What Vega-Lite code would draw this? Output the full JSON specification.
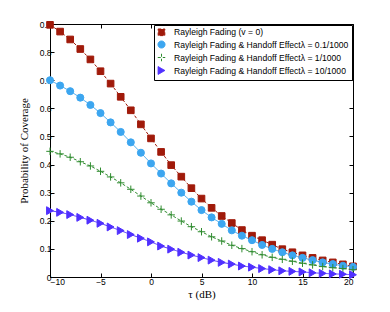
{
  "$schema": "https://vega.github.io/schema/vega-lite/v6.json",
  "width": 303,
  "height": 253,
  "autosize": {"type": "none"},
  "padding": {"left": 50, "top": 24, "right": 37, "bottom": 35},
  "background": "white",
  "config": {
    "view": {"stroke": "black", "strokeWidth": 1},
    "axis": {"grid": false, "domain": false, "tickColor": "black", "tickSize": -4, "labelFont": "Liberation Sans", "labelFontSize": 8.5, "labelColor": "black", "titleFont": "Liberation Serif", "titleFontWeight": "normal", "titleFontSize": 11, "titleColor": "black"}
  },
  "data": {"values": [
    {"s":"Rayleigh Fading (v = 0)","x":-10,"y":0.897},{"s":"Rayleigh Fading (v = 0)","x":-9,"y":0.873},{"s":"Rayleigh Fading (v = 0)","x":-8,"y":0.845},{"s":"Rayleigh Fading (v = 0)","x":-7,"y":0.811},{"s":"Rayleigh Fading (v = 0)","x":-6,"y":0.774},{"s":"Rayleigh Fading (v = 0)","x":-5,"y":0.732},{"s":"Rayleigh Fading (v = 0)","x":-4,"y":0.688},{"s":"Rayleigh Fading (v = 0)","x":-3,"y":0.641},{"s":"Rayleigh Fading (v = 0)","x":-2,"y":0.593},{"s":"Rayleigh Fading (v = 0)","x":-1,"y":0.543},{"s":"Rayleigh Fading (v = 0)","x":0,"y":0.493},{"s":"Rayleigh Fading (v = 0)","x":1,"y":0.445},{"s":"Rayleigh Fading (v = 0)","x":2,"y":0.398},{"s":"Rayleigh Fading (v = 0)","x":3,"y":0.357},{"s":"Rayleigh Fading (v = 0)","x":4,"y":0.316},{"s":"Rayleigh Fading (v = 0)","x":5,"y":0.279},{"s":"Rayleigh Fading (v = 0)","x":6,"y":0.246},{"s":"Rayleigh Fading (v = 0)","x":7,"y":0.217},{"s":"Rayleigh Fading (v = 0)","x":8,"y":0.192},{"s":"Rayleigh Fading (v = 0)","x":9,"y":0.167},{"s":"Rayleigh Fading (v = 0)","x":10,"y":0.147},{"s":"Rayleigh Fading (v = 0)","x":11,"y":0.131},{"s":"Rayleigh Fading (v = 0)","x":12,"y":0.115},{"s":"Rayleigh Fading (v = 0)","x":13,"y":0.099},{"s":"Rayleigh Fading (v = 0)","x":14,"y":0.088},{"s":"Rayleigh Fading (v = 0)","x":15,"y":0.077},{"s":"Rayleigh Fading (v = 0)","x":16,"y":0.068},{"s":"Rayleigh Fading (v = 0)","x":17,"y":0.059},{"s":"Rayleigh Fading (v = 0)","x":18,"y":0.052},{"s":"Rayleigh Fading (v = 0)","x":19,"y":0.045},{"s":"Rayleigh Fading (v = 0)","x":20,"y":0.038},
    {"s":"Rayleigh Fading & Handoff Effectλ = 0.1/1000","x":-10,"y":0.700},{"s":"Rayleigh Fading & Handoff Effectλ = 0.1/1000","x":-9,"y":0.681},{"s":"Rayleigh Fading & Handoff Effectλ = 0.1/1000","x":-8,"y":0.661},{"s":"Rayleigh Fading & Handoff Effectλ = 0.1/1000","x":-7,"y":0.638},{"s":"Rayleigh Fading & Handoff Effectλ = 0.1/1000","x":-6,"y":0.612},{"s":"Rayleigh Fading & Handoff Effectλ = 0.1/1000","x":-5,"y":0.583},{"s":"Rayleigh Fading & Handoff Effectλ = 0.1/1000","x":-4,"y":0.550},{"s":"Rayleigh Fading & Handoff Effectλ = 0.1/1000","x":-3,"y":0.516},{"s":"Rayleigh Fading & Handoff Effectλ = 0.1/1000","x":-2,"y":0.479},{"s":"Rayleigh Fading & Handoff Effectλ = 0.1/1000","x":-1,"y":0.442},{"s":"Rayleigh Fading & Handoff Effectλ = 0.1/1000","x":0,"y":0.404},{"s":"Rayleigh Fading & Handoff Effectλ = 0.1/1000","x":1,"y":0.368},{"s":"Rayleigh Fading & Handoff Effectλ = 0.1/1000","x":2,"y":0.333},{"s":"Rayleigh Fading & Handoff Effectλ = 0.1/1000","x":3,"y":0.300},{"s":"Rayleigh Fading & Handoff Effectλ = 0.1/1000","x":4,"y":0.268},{"s":"Rayleigh Fading & Handoff Effectλ = 0.1/1000","x":5,"y":0.238},{"s":"Rayleigh Fading & Handoff Effectλ = 0.1/1000","x":6,"y":0.212},{"s":"Rayleigh Fading & Handoff Effectλ = 0.1/1000","x":7,"y":0.189},{"s":"Rayleigh Fading & Handoff Effectλ = 0.1/1000","x":8,"y":0.166},{"s":"Rayleigh Fading & Handoff Effectλ = 0.1/1000","x":9,"y":0.147},{"s":"Rayleigh Fading & Handoff Effectλ = 0.1/1000","x":10,"y":0.131},{"s":"Rayleigh Fading & Handoff Effectλ = 0.1/1000","x":11,"y":0.114},{"s":"Rayleigh Fading & Handoff Effectλ = 0.1/1000","x":12,"y":0.100},{"s":"Rayleigh Fading & Handoff Effectλ = 0.1/1000","x":13,"y":0.088},{"s":"Rayleigh Fading & Handoff Effectλ = 0.1/1000","x":14,"y":0.077},{"s":"Rayleigh Fading & Handoff Effectλ = 0.1/1000","x":15,"y":0.068},{"s":"Rayleigh Fading & Handoff Effectλ = 0.1/1000","x":16,"y":0.060},{"s":"Rayleigh Fading & Handoff Effectλ = 0.1/1000","x":17,"y":0.052},{"s":"Rayleigh Fading & Handoff Effectλ = 0.1/1000","x":18,"y":0.046},{"s":"Rayleigh Fading & Handoff Effectλ = 0.1/1000","x":19,"y":0.040},{"s":"Rayleigh Fading & Handoff Effectλ = 0.1/1000","x":20,"y":0.036},
    {"s":"Rayleigh Fading & Handoff Effectλ = 1/1000","x":-10,"y":0.447},{"s":"Rayleigh Fading & Handoff Effectλ = 1/1000","x":-9,"y":0.438},{"s":"Rayleigh Fading & Handoff Effectλ = 1/1000","x":-8,"y":0.426},{"s":"Rayleigh Fading & Handoff Effectλ = 1/1000","x":-7,"y":0.410},{"s":"Rayleigh Fading & Handoff Effectλ = 1/1000","x":-6,"y":0.395},{"s":"Rayleigh Fading & Handoff Effectλ = 1/1000","x":-5,"y":0.376},{"s":"Rayleigh Fading & Handoff Effectλ = 1/1000","x":-4,"y":0.356},{"s":"Rayleigh Fading & Handoff Effectλ = 1/1000","x":-3,"y":0.335},{"s":"Rayleigh Fading & Handoff Effectλ = 1/1000","x":-2,"y":0.312},{"s":"Rayleigh Fading & Handoff Effectλ = 1/1000","x":-1,"y":0.288},{"s":"Rayleigh Fading & Handoff Effectλ = 1/1000","x":0,"y":0.264},{"s":"Rayleigh Fading & Handoff Effectλ = 1/1000","x":1,"y":0.241},{"s":"Rayleigh Fading & Handoff Effectλ = 1/1000","x":2,"y":0.221},{"s":"Rayleigh Fading & Handoff Effectλ = 1/1000","x":3,"y":0.199},{"s":"Rayleigh Fading & Handoff Effectλ = 1/1000","x":4,"y":0.179},{"s":"Rayleigh Fading & Handoff Effectλ = 1/1000","x":5,"y":0.161},{"s":"Rayleigh Fading & Handoff Effectλ = 1/1000","x":6,"y":0.143},{"s":"Rayleigh Fading & Handoff Effectλ = 1/1000","x":7,"y":0.128},{"s":"Rayleigh Fading & Handoff Effectλ = 1/1000","x":8,"y":0.113},{"s":"Rayleigh Fading & Handoff Effectλ = 1/1000","x":9,"y":0.101},{"s":"Rayleigh Fading & Handoff Effectλ = 1/1000","x":10,"y":0.090},{"s":"Rayleigh Fading & Handoff Effectλ = 1/1000","x":11,"y":0.079},{"s":"Rayleigh Fading & Handoff Effectλ = 1/1000","x":12,"y":0.070},{"s":"Rayleigh Fading & Handoff Effectλ = 1/1000","x":13,"y":0.063},{"s":"Rayleigh Fading & Handoff Effectλ = 1/1000","x":14,"y":0.056},{"s":"Rayleigh Fading & Handoff Effectλ = 1/1000","x":15,"y":0.049},{"s":"Rayleigh Fading & Handoff Effectλ = 1/1000","x":16,"y":0.043},{"s":"Rayleigh Fading & Handoff Effectλ = 1/1000","x":17,"y":0.037},{"s":"Rayleigh Fading & Handoff Effectλ = 1/1000","x":18,"y":0.033},{"s":"Rayleigh Fading & Handoff Effectλ = 1/1000","x":19,"y":0.030},{"s":"Rayleigh Fading & Handoff Effectλ = 1/1000","x":20,"y":0.026},
    {"s":"Rayleigh Fading & Handoff Effectλ = 10/1000","x":-10,"y":0.236},{"s":"Rayleigh Fading & Handoff Effectλ = 10/1000","x":-9,"y":0.230},{"s":"Rayleigh Fading & Handoff Effectλ = 10/1000","x":-8,"y":0.222},{"s":"Rayleigh Fading & Handoff Effectλ = 10/1000","x":-7,"y":0.212},{"s":"Rayleigh Fading & Handoff Effectλ = 10/1000","x":-6,"y":0.202},{"s":"Rayleigh Fading & Handoff Effectλ = 10/1000","x":-5,"y":0.191},{"s":"Rayleigh Fading & Handoff Effectλ = 10/1000","x":-4,"y":0.178},{"s":"Rayleigh Fading & Handoff Effectλ = 10/1000","x":-3,"y":0.165},{"s":"Rayleigh Fading & Handoff Effectλ = 10/1000","x":-2,"y":0.151},{"s":"Rayleigh Fading & Handoff Effectλ = 10/1000","x":-1,"y":0.138},{"s":"Rayleigh Fading & Handoff Effectλ = 10/1000","x":0,"y":0.125},{"s":"Rayleigh Fading & Handoff Effectλ = 10/1000","x":1,"y":0.110},{"s":"Rayleigh Fading & Handoff Effectλ = 10/1000","x":2,"y":0.099},{"s":"Rayleigh Fading & Handoff Effectλ = 10/1000","x":3,"y":0.088},{"s":"Rayleigh Fading & Handoff Effectλ = 10/1000","x":4,"y":0.078},{"s":"Rayleigh Fading & Handoff Effectλ = 10/1000","x":5,"y":0.069},{"s":"Rayleigh Fading & Handoff Effectλ = 10/1000","x":6,"y":0.060},{"s":"Rayleigh Fading & Handoff Effectλ = 10/1000","x":7,"y":0.052},{"s":"Rayleigh Fading & Handoff Effectλ = 10/1000","x":8,"y":0.046},{"s":"Rayleigh Fading & Handoff Effectλ = 10/1000","x":9,"y":0.039},{"s":"Rayleigh Fading & Handoff Effectλ = 10/1000","x":10,"y":0.035},{"s":"Rayleigh Fading & Handoff Effectλ = 10/1000","x":11,"y":0.030},{"s":"Rayleigh Fading & Handoff Effectλ = 10/1000","x":12,"y":0.026},{"s":"Rayleigh Fading & Handoff Effectλ = 10/1000","x":13,"y":0.022},{"s":"Rayleigh Fading & Handoff Effectλ = 10/1000","x":14,"y":0.020},{"s":"Rayleigh Fading & Handoff Effectλ = 10/1000","x":15,"y":0.018},{"s":"Rayleigh Fading & Handoff Effectλ = 10/1000","x":16,"y":0.015},{"s":"Rayleigh Fading & Handoff Effectλ = 10/1000","x":17,"y":0.013},{"s":"Rayleigh Fading & Handoff Effectλ = 10/1000","x":18,"y":0.011},{"s":"Rayleigh Fading & Handoff Effectλ = 10/1000","x":19,"y":0.010},{"s":"Rayleigh Fading & Handoff Effectλ = 10/1000","x":20,"y":0.008}
  ]},
  "resolve": {"axis": {"x": "independent", "y": "independent"}},
  "layer": [
    {
      "mark": {"type": "line", "strokeWidth": 1},
      "encoding": {
        "x": {"field": "x", "type": "quantitative", "scale": {"domain": [-10, 20], "nice": false, "zero": false}, "axis": {"values": [-10, -5, 0, 5, 10, 15, 20], "title": "τ (dB)", "labelPadding": 4, "titlePadding": 3}},
        "y": {"field": "y", "type": "quantitative", "scale": {"domain": [0, 0.9], "nice": false}, "axis": {"values": [0, 0.1, 0.2, 0.3, 0.4, 0.5, 0.6, 0.7, 0.8, 0.9], "format": "~g", "title": "Probability of Coverage", "labelPadding": 3, "titlePadding": 10}},
        "stroke": {"field": "s", "type": "nominal", "title": null, "scale": {"domain": ["Rayleigh Fading (v = 0)", "Rayleigh Fading & Handoff Effectλ = 0.1/1000", "Rayleigh Fading & Handoff Effectλ = 1/1000", "Rayleigh Fading & Handoff Effectλ = 10/1000"], "range": ["#a01a0a", "#3ca6f0", "#2e8b2e", "#5030ff"]}},
        "strokeDash": {"field": "s", "type": "nominal", "title": null, "scale": {"domain": ["Rayleigh Fading (v = 0)", "Rayleigh Fading & Handoff Effectλ = 0.1/1000", "Rayleigh Fading & Handoff Effectλ = 1/1000", "Rayleigh Fading & Handoff Effectλ = 10/1000"], "range": [[3, 2], [1, 0], [3, 2], [1, 0]]}}
      }
    },
    {
      "mark": {"type": "point", "filled": true, "strokeWidth": 1, "opacity": 1},
      "encoding": {
        "x": {"field": "x", "type": "quantitative", "axis": {"orient": "top", "values": [-10, -5, 0, 5, 10, 15, 20], "labels": false, "title": null}},
        "y": {"field": "y", "type": "quantitative", "axis": {"orient": "right", "values": [0, 0.1, 0.2, 0.3, 0.4, 0.5, 0.6, 0.7, 0.8, 0.9], "labels": false, "title": null}},
        "fill": {"field": "s", "type": "nominal", "title": null, "scale": {"domain": ["Rayleigh Fading (v = 0)", "Rayleigh Fading & Handoff Effectλ = 0.1/1000", "Rayleigh Fading & Handoff Effectλ = 1/1000", "Rayleigh Fading & Handoff Effectλ = 10/1000"], "range": ["#a01a0a", "#3ca6f0", "#2e8b2e", "#5030ff"]},
          "legend": {"title": null, "orient": "top-right", "offset": 1, "fillColor": "white", "strokeColor": "black", "padding": 3, "labelFont": "Liberation Sans", "labelFontSize": 8.6, "labelColor": "black", "rowPadding": 0, "labelLimit": 400, "labelOffset": 8, "symbolStrokeWidth": 1}},
        "stroke": {"field": "s", "type": "nominal", "title": null},
        "shape": {"field": "s", "type": "nominal", "title": null, "scale": {"domain": ["Rayleigh Fading (v = 0)", "Rayleigh Fading & Handoff Effectλ = 0.1/1000", "Rayleigh Fading & Handoff Effectλ = 1/1000", "Rayleigh Fading & Handoff Effectλ = 10/1000"], "range": ["square", "circle", "M-1,0H1M0,-1V1", "triangle-right"]}},
        "size": {"field": "s", "type": "nominal", "title": null, "scale": {"domain": ["Rayleigh Fading (v = 0)", "Rayleigh Fading & Handoff Effectλ = 0.1/1000", "Rayleigh Fading & Handoff Effectλ = 1/1000", "Rayleigh Fading & Handoff Effectλ = 10/1000"], "range": [44, 62, 36, 55]}}
      }
    }
  ]
}
